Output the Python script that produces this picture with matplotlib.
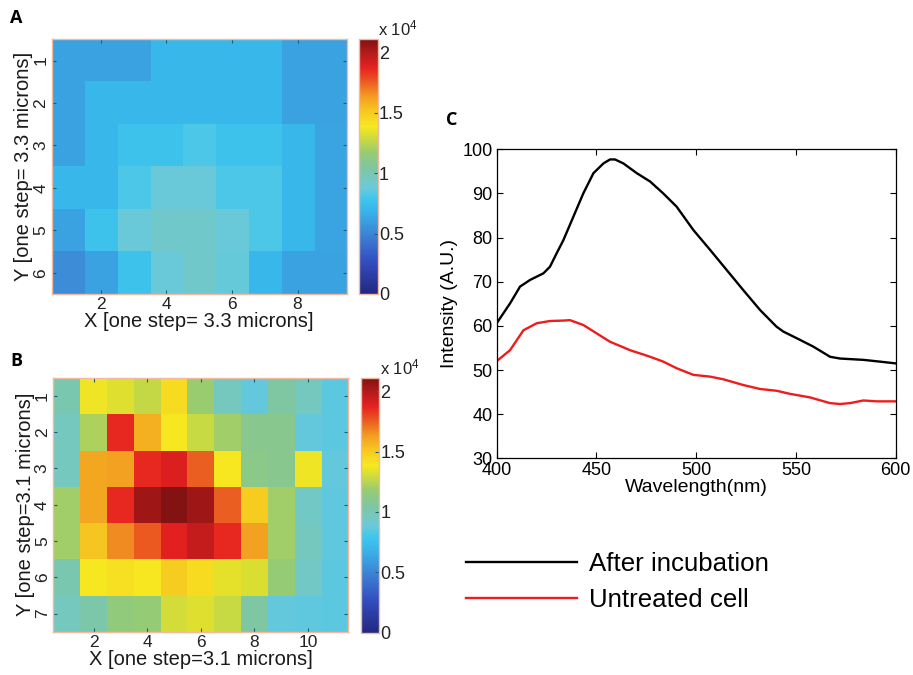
import numpy as np
import matplotlib
matplotlib.use("Agg")
import matplotlib.pyplot as plt
import matplotlib.colors as mcolors

plt.rcParams['font.family'] = ['Liberation Sans', 'DejaVu Sans']
plt.rcParams['mathtext.default'] = 'regular'

# ---------------- data ----------------
# Panel A: intensity map (rows = Y 1..6, cols = X 1..9)
map_a = np.array([
    [6100, 6100, 6100, 7000, 7000, 7000, 7000, 6100, 6100],
    [6100, 7000, 7000, 7000, 7000, 7000, 7000, 6100, 6100],
    [6100, 7000, 7600, 7600, 8200, 7600, 7600, 7000, 6200],
    [7000, 7000, 8200, 8900, 8900, 8200, 8200, 7000, 6200],
    [6100, 7600, 8900, 9300, 9300, 8900, 8200, 7000, 6200],
    [5300, 6100, 7600, 8900, 9300, 8800, 7000, 6100, 6100],
])

# Panel B: intensity map (rows = Y 1..7, cols = X 1..11)
map_b = np.array([
    [10100, 13700, 13300, 12700, 14400, 11800,  9700,  8700, 10500,  9700,  8500],
    [ 9700, 12200, 18600, 15800, 13900, 12800, 12000, 11000, 11000,  8700,  8500],
    [ 9700, 16000, 16200, 18600, 19000, 17500, 13900, 11200, 11000, 13700,  8700],
    [12000, 16000, 18600, 20400, 21000, 20400, 17500, 15000, 12000,  9400,  8600],
    [12000, 15200, 16700, 17600, 18800, 19600, 18600, 16200, 12000,  9700,  8600],
    [10100, 13900, 14200, 13900, 15000, 14400, 13500, 13200, 11700,  9400,  8500],
    [ 9700, 10300, 11500, 11700, 13100, 13300, 12800, 10500,  8700,  8600,  8500],
])

# Panel C: spectra
wl_black = [400, 406.7, 411.7, 416.7, 423.4, 426.7, 430, 433.4, 438.4, 443.4, 448.5,
            453.5, 456.8, 459.3, 463.5, 470.2, 476.9, 483.5, 490.2, 498.6, 507,
            515.2, 523.6, 532, 540.3, 543.7, 550.4, 558.7, 567.1, 572.1, 583.8, 592.1, 600]
int_black = [60.6, 65.1, 68.9, 70.4, 71.9, 73.4, 76.4, 79.4, 84.7, 90.0, 94.6,
             96.8, 97.7, 97.7, 96.8, 94.6, 92.7, 90.0, 87.0, 81.7, 77.2,
             72.7, 68.1, 63.6, 59.8, 58.7, 57.2, 55.3, 53.0, 52.6, 52.3, 51.9, 51.5]
wl_red = [400, 406.7, 413.4, 420.1, 426.7, 433.4, 436.7, 443.4, 450.1, 456.8, 466.8,
          476.9, 483.5, 490.2, 498.6, 507, 513.6, 523.6, 532, 540.3, 547, 557,
          567.1, 572.1, 577.1, 583.8, 590.5, 600]
int_red = [52.0, 54.5, 59.0, 60.6, 61.1, 61.2, 61.3, 60.2, 58.3, 56.4, 54.5,
           53.0, 51.9, 50.4, 48.9, 48.5, 47.9, 46.6, 45.7, 45.3, 44.6, 43.8,
           42.5, 42.3, 42.5, 43.1, 42.9, 42.9]

series_labels = ["After incubation", "Untreated cell"]
cbar_ticks = [0, 5000, 10000, 15000, 20000]
cbar_ticklabels = ["0", "0.5", "1", "1.5", "2"]

# ---------------- style ----------------
W, H = 913, 675
fig = plt.figure(figsize=(W / 100, H / 100), dpi=100)

def fx(px):
    return px / W

def fy(py):
    return 1 - py / H

# muted "jet" as it appears in the printed figure
cmap = mcolors.LinearSegmentedColormap.from_list('muted_jet', [
    (0.00, (0.13, 0.16, 0.50)),
    (0.125, (0.20, 0.30, 0.75)),
    (0.25, (0.24, 0.55, 0.85)),
    (0.33, (0.22, 0.72, 0.92)),
    (0.375, (0.25, 0.78, 0.93)),
    (0.42, (0.42, 0.79, 0.85)),
    (0.50, (0.50, 0.78, 0.63)),
    (0.56, (0.60, 0.80, 0.44)),
    (0.625, (0.85, 0.87, 0.20)),
    (0.66, (0.97, 0.91, 0.13)),
    (0.72, (0.97, 0.78, 0.13)),
    (0.78, (0.95, 0.60, 0.13)),
    (0.84, (0.92, 0.33, 0.13)),
    (0.89, (0.90, 0.13, 0.13)),
    (0.95, (0.70, 0.10, 0.10)),
    (1.00, (0.50, 0.07, 0.07)),
], N=256)
VMIN, VMAX = 0, 21100

spine_col = '#efb9a2'
tick_col = '#1a5f7a'


def heat(ax_box, cb_box, data, xticks, xlabel, ylabel):
    l, t, r, b = ax_box
    ax = fig.add_axes([fx(l), fy(b), fx(r - l), (b - t) / H])
    ny, nx = data.shape
    im = ax.imshow(data, cmap=cmap, vmin=VMIN, vmax=VMAX, aspect='auto',
                   interpolation='nearest', extent=(0.5, nx + 0.5, ny + 0.5, 0.5))
    ax.set_xticks(xticks)
    ax.set_yticks(range(1, ny + 1))
    ax.set_yticklabels([str(i) for i in range(1, ny + 1)], rotation=90, va='center')
    ax.tick_params(direction='in', length=3, width=0.8, color=tick_col,
                   labelsize=12.5, top=True, right=True, pad=2.5, labelcolor='#222222')
    for s in ax.spines.values():
        s.set_color(spine_col)
        s.set_linewidth(1.0)
    ax.set_xlabel(xlabel, fontsize=14.5, labelpad=0, color='#1a1a1a')
    ax.set_ylabel(ylabel, fontsize=14.5, labelpad=0, color='#1a1a1a')
    cl, ct, cr, cbm = cb_box
    cax = fig.add_axes([fx(cl), fy(cbm), fx(cr - cl), (cbm - ct) / H])
    cb = fig.colorbar(im, cax=cax)
    cb.set_ticks(cbar_ticks)
    cb.set_ticklabels(cbar_ticklabels)
    cax.tick_params(direction='in', length=3, width=0.8, color=tick_col,
                    labelsize=13, pad=1, labelcolor='#222222')
    cb.outline.set_edgecolor(spine_col)
    cb.outline.set_linewidth(1.0)
    fig.text(fx(cr + 0.5), fy(ct - 4), r'x 10$^4$', fontsize=12, ha='left',
             va='baseline', color='#222222')
    return ax


heat((51.7, 39.3, 346.7, 294), (359.3, 39.3, 377.7, 294), map_a,
     [2, 4, 6, 8], 'X [one step= 3.3 microns]', 'Y [one step= 3.3 microns]')
heat((53.3, 377.7, 348.3, 631.7), (361, 378, 379, 632.7), map_b,
     [2, 4, 6, 8, 10], 'X [one step=3.1 microns]', 'Y [one step=3.1 microns]')

# Panel C
axc = fig.add_axes([fx(496.7), fy(458.3), fx(895.7 - 496.7), (458.3 - 149.3) / H])
l1, = axc.plot(wl_black, int_black, color='black', lw=1.7)
l2, = axc.plot(wl_red, int_red, color='#ee1c1c', lw=1.7)
axc.set_xlim(400, 600)
axc.set_ylim(30, 100)
axc.set_xticks([400, 450, 500, 550, 600])
axc.set_yticks(range(30, 101, 10))
axc.tick_params(direction='in', length=4, width=0.8, top=True, right=True,
                labelsize=13, pad=3)
for s in axc.spines.values():
    s.set_linewidth(0.9)
axc.set_xlabel('Wavelength(nm)', fontsize=14, labelpad=0)
axc.set_ylabel('Intensity (A.U.)', fontsize=14, labelpad=3)

fig.legend([l1, l2], series_labels, loc='center left',
           bbox_to_anchor=(fx(466), fy(582)), frameon=False, fontsize=18.6,
           handlelength=4.3, handletextpad=0.45, labelspacing=0.5,
           borderaxespad=0, borderpad=0)

# panel letters
for txt, x, y in [('A', 16, 18), ('B', 16, 361), ('C', 452, 120)]:
    fig.text(fx(x), fy(y), txt, fontsize=13, fontweight='bold',
             ha='center', va='center', family=['Open Sans', 'DejaVu Sans'])

fig.savefig('out.png', dpi=100)
